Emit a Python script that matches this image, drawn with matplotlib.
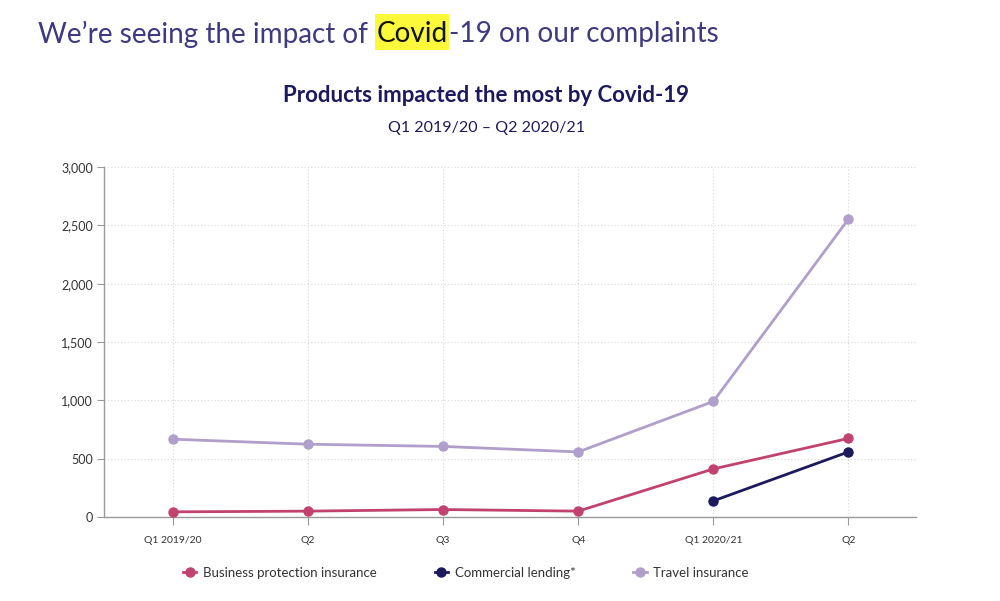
import matplotlib
matplotlib.use("Agg")
import matplotlib.pyplot as plt
from matplotlib.lines import Line2D
from matplotlib.patches import Rectangle

quarters = ["Q1 2019/20", "Q2", "Q3", "Q4", "Q1 2020/21", "Q2"]
business = [43, 49, 63, 49, 411, 673]
commercial = [None, None, None, None, 137, 557]
travel = [666, 623, 604, 557, 990, 2554]
yticks = [0, 500, 1000, 1500, 2000, 2500, 3000]

c_bus = "#c2426f"
c_com = "#1c1a5c"
c_tra = "#b09fcb"
title_col = "#3e3a80"
sub_col = "#1c1a5c"

plt.rcParams["font.family"] = ["Lato", "DejaVu Sans"]

fig = plt.figure(figsize=(10, 6.01), dpi=100)
ax = fig.add_axes([0.104, 0.140, 0.812, 0.582])

x = list(range(len(quarters)))
ax.plot(x, business, color=c_bus, lw=2.0, marker="o", ms=6.5, zorder=3)
xc = [i for i, v in enumerate(commercial) if v is not None]
yc = [v for v in commercial if v is not None]
ax.plot(xc, yc, color=c_com, lw=2.0, marker="o", ms=6.5, zorder=3)
ax.plot(x, travel, color=c_tra, lw=2.0, marker="o", ms=6.5, zorder=2)

ax.set_xlim(-0.51, 5.5)
ax.set_ylim(0, 3000)
ax.set_xticks(x)
ax.set_xticklabels(quarters, fontsize=7.5, color="#333333")
ax.set_yticks(yticks)
ax.set_yticklabels([f"{v:,}" for v in yticks], fontsize=9, color="#333333")
ax.grid(True, color="#d8d8d8", linestyle=(0, (1, 2)), lw=0.8)
ax.set_axisbelow(True)
for s in ["top", "right"]:
    ax.spines[s].set_visible(False)
for s in ["left", "bottom"]:
    ax.spines[s].set_color("#999999")
    ax.spines[s].set_linewidth(1.0)
ax.tick_params(axis="x", length=6, color="#999999", pad=8)
ax.tick_params(axis="y", length=5, color="#999999", pad=3)

handles = [
    Line2D([0], [0], color=c_bus, lw=2, marker="o", ms=6.5),
    Line2D([0], [0], color=c_com, lw=2, marker="o", ms=6.5),
    Line2D([0], [0], color=c_tra, lw=2, marker="o", ms=6.5),
]
fig.legend(handles, ["Business protection insurance", "Commercial lending*", "Travel insurance"],
           loc="center", bbox_to_anchor=(0.466, 1 - 573 / 601), ncol=3, frameon=False,
           fontsize=9.5, handlelength=1.0, handletextpad=0.5, columnspacing=4.4,
           labelcolor="#333333")

fig.text(0.486, 1 - 95 / 601, "Products impacted the most by Covid-19", ha="center", va="center",
         fontsize=16, fontweight="bold", color=sub_col)
fig.text(0.486, 1 - 128 / 601, "Q1 2019/20 \u2013 Q2 2020/21", ha="center", va="center",
         fontsize=11.5, color=sub_col)

# main title with highlight
fs = 20.1
W, H = fig.bbox.width, fig.bbox.height
ty = 1 - 34 / 601
t1 = fig.text(0.038, ty, "We\u2019re seeing the impact of", ha="left", va="center",
              fontsize=fs, color=title_col)
fig.canvas.draw()
r = fig.canvas.get_renderer()
bb = t1.get_window_extent(r)
x2 = (bb.x1 + 9) / W
t2 = fig.text(x2, ty, "Covid", ha="left", va="center", fontsize=fs, color="#111111", zorder=3)
fig.canvas.draw()
bb2 = t2.get_window_extent(r)
hl = Rectangle(((bb2.x0 - 2) / W, 1 - 50 / 601), (bb2.x1 - bb2.x0 + 3) / W, 36 / 601,
               transform=fig.transFigure, facecolor="#fbf93a", edgecolor="none", zorder=2)
fig.patches.append(hl)
x3 = (bb2.x1 + 1) / W
fig.text(x3, ty, "-19 on our complaints", ha="left", va="center", fontsize=fs, color=title_col)

fig.savefig("out.png", dpi=100, facecolor="white")
